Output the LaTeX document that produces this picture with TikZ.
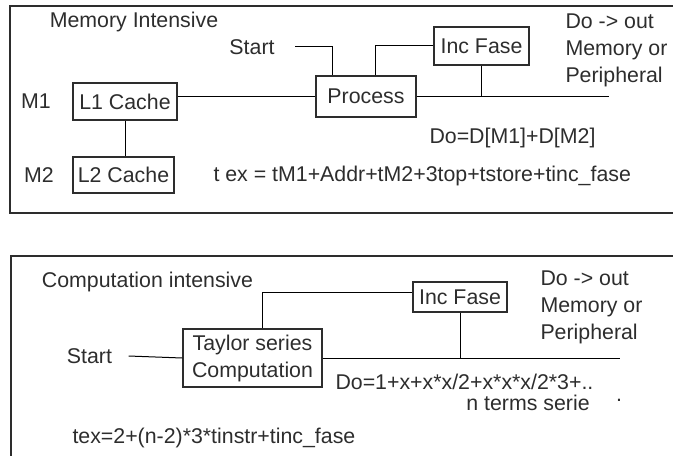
\documentclass[tikz,border=0pt]{standalone}
\usepackage{fontspec}
\setmainfont{Liberation Sans}
\definecolor{ink}{RGB}{45,45,45}
\tikzset{every picture/.style={line width=0.75pt}}
\tikzset{
  lbl/.style={font=\fontsize{16}{20.25}\selectfont, text=ink, inner sep=0pt},
  blk/.style={lbl, draw=ink, line width=1pt},
  frm/.style={draw=ink, line width=1.5pt}
}

\begin{document}
\begin{tikzpicture}[x=0.75pt,y=0.75pt,yscale=-1]
\useasboundingbox (0,0) rectangle (673,456);

% panels
\draw  [frm]  (673,6.5) -- (10,6.5) -- (10,213) -- (673,213) ;
\draw  [frm]  (673,256) -- (11,256) -- (11,456) ;

% memory intensive
\node (mtitle) at (134,22) [lbl] {Memory Intensive};
\node (mstart) at (252,47) [lbl] {Start};
\node (m1) at (36,101) [lbl] {M1};
\node (m2) at (39,175) [lbl] {M2};
\node (l1) at (125,101.5) [blk, minimum width=78pt, minimum height=27.75pt] {L1 Cache};
\node (l2) at (123.5,175) [blk, minimum width=75.75pt, minimum height=27pt] {L2 Cache};
\node (proc) at (366,96.5) [blk, minimum width=75pt, minimum height=30.75pt] {Process};
\node (minc) at (481.5,46) [blk, minimum width=71.25pt, minimum height=28.5pt] {Inc Fase};
\node (mout) at (565,50.5) [lbl, anchor=west, align=left] {Do -> out\\Memory or\\Peripheral};
\node (mdo) at (512.5,138) [lbl] {Do=D[M1]+D[M2]};
\node (mtex) at (213,176) [lbl, anchor=west] {t ex = tM1+Addr+tM2+3top+tstore+tinc\_fase};

\coordinate (mbend) at (332,45);
\coordinate (mtap) at (375,46);
\coordinate (mend) at (609,97);

\draw  (l1.east |- proc.west) -- (proc.west) ;
\draw  (l1.south) -- (l1.south |- l2.north) ;
\draw  ([xshift=15pt]mstart.east) -| (mbend |- proc.north) ;
\draw  (proc.north -| mtap) |- (minc.west) ;
\draw  (proc.east) -- (proc.east -| mend) ;
\draw  (minc.south) -- (minc.south |- mend) ;

% computation intensive
\node (ctitle) at (147.5,282) [lbl] {Computation intensive};
\node (cstart) at (89.5,356) [lbl] {Start};
\node (tay) at (252.5,358) [blk, align=center, minimum width=104.25pt, minimum height=43.5pt] {Taylor series\\Computation};
\node (cinc) at (460,297) [blk, minimum width=70.5pt, minimum height=22.5pt] {Inc Fase};
\node (cout) at (540,307.5) [lbl, anchor=west, align=left] {Do -> out\\Memory or\\Peripheral};
\node (cdo) at (335,382) [lbl, anchor=west] {Do=1+x+x*x/2+x*x*x/2*3+..};
\node (cn) at (528,403) [lbl] {n terms serie};
\node (cdot) at (619,400) [lbl] {.};
\node (ctex) at (72,438) [lbl, anchor=west] {tex=2+(n-2)*3*tinstr+tinc\_fase};

\coordinate (ctap) at (262,292);
\coordinate (cend) at (620,358);

\draw  ([xshift=12pt]cstart.east) -- (tay.west) ;
\draw  (tay.north -| ctap) |- (ctap -| cinc.west) ;
\draw  (tay.east) -- (tay.east -| cend) ;
\draw  (cinc.south) -- (cinc.south |- cend) ;

\end{tikzpicture}
\end{document}
